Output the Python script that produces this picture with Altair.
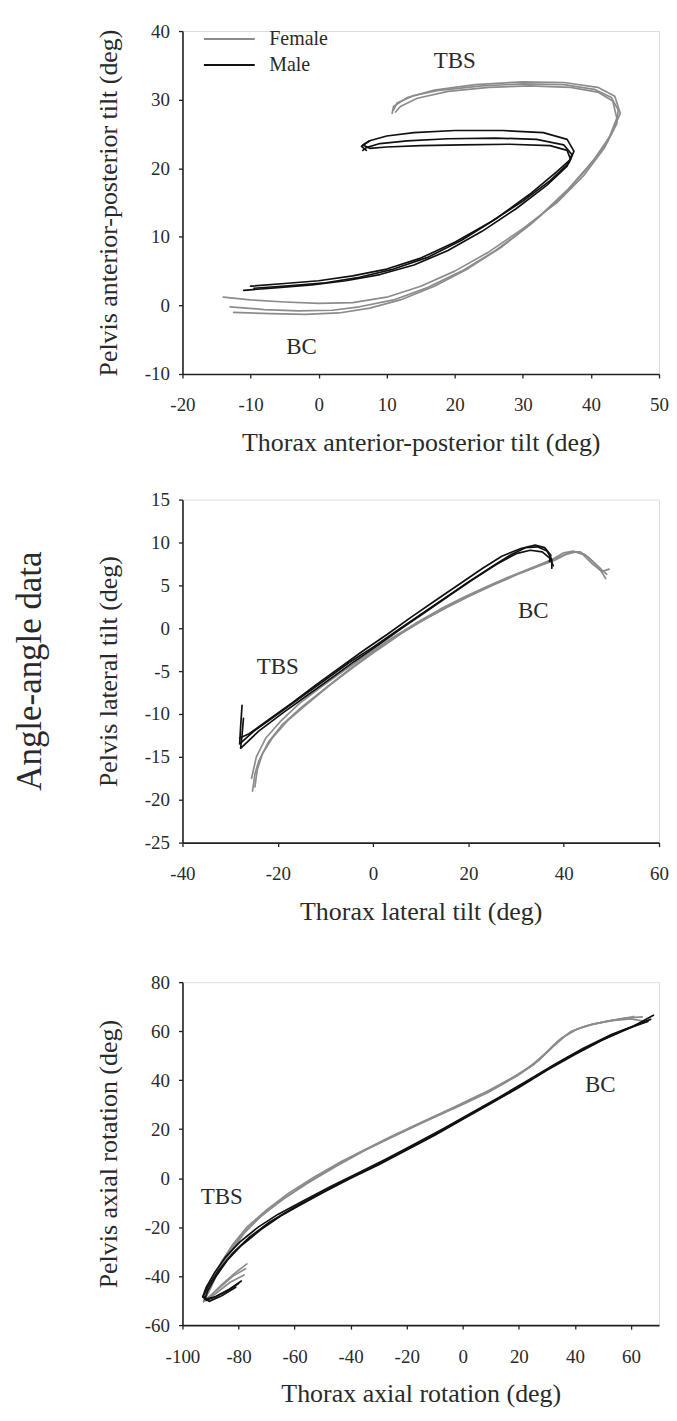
import altair as alt
import pandas as pd

FONT = "Liberation Serif"
GRAY = "#8c8c8c"
BLACK = "#111111"
TEXT = "#2a2a2a"
GENDERS = ["Female", "Male"]
SIDE_TITLE = "Angle-angle data"

# ---------------- Panel 1: anterior-posterior tilt ----------------
P1_X_TICKS = [-20, -10, 0, 10, 20, 30, 40, 50]
P1_Y_TICKS = [-10, 0, 10, 20, 30, 40]
P1_F_A = [(-14, 1.2), (-10, 0.8), (-5, 0.5), (0, 0.3), (5, 0.4), (10, 1.2), (15, 2.8), (20, 5.0),
          (25, 7.8), (30, 11.2), (35, 15.0), (39, 19.0), (42, 23.0), (43.8, 26.5), (44, 28.5),
          (43, 30.3), (40.5, 31.5), (36, 32.2), (30, 32.3), (24, 32.0), (18, 31.4), (14, 30.6),
          (11.5, 29.5), (11, 28.5)]
P1_F_B = [(-13, -0.2), (-8, -0.6), (-3, -0.8), (2, -0.7), (6, -0.2), (11, 0.8), (16, 2.6), (21, 5.0),
          (26, 8.0), (31, 11.7), (35.5, 15.6), (39.5, 20.0), (42.5, 24.0), (43.8, 27.3), (43.2, 29.8),
          (41, 31.1), (37, 31.8), (31, 32.0), (25, 31.8), (19, 31.2), (14.5, 30.2), (12, 29.0),
          (11.3, 28.2)]
P1_F_C = [(-12.5, -1.0), (-7, -1.2), (-2, -1.3), (3, -1.1), (7.5, -0.4), (12, 0.8), (17, 2.8),
          (22, 5.4), (27, 8.6), (32, 12.6), (36.5, 16.8), (40.5, 21.3), (43, 25.0), (44.3, 28.0),
          (43.5, 30.5), (41, 31.8), (36, 32.5), (30, 32.6), (23, 32.2), (17, 31.4), (13, 30.3),
          (11, 29.0), (10.8, 28.0)]
P1_M_A = [(-10, 2.8), (-5, 3.2), (0, 3.6), (5, 4.3), (10, 5.3), (15, 6.9), (20, 9.2), (25, 12.0),
          (30, 15.2), (34, 18.2), (36.8, 20.8), (37.5, 22.5), (36.5, 24.2), (33, 25.2), (27, 25.5),
          (20, 25.5), (14, 25.2), (10, 24.7), (7.5, 24.0), (6.3, 23.2), (7, 22.6)]
P1_M_B = [(-11, 2.2), (-6, 2.6), (-1, 3.0), (4, 3.6), (9, 4.5), (14, 5.9), (19, 8.0), (24, 10.8),
          (29, 14.1), (33.5, 17.5), (36.5, 20.3), (37.2, 22.0), (36, 23.4), (32, 24.2), (26, 24.4),
          (19, 24.3), (13, 24.0), (9, 23.6), (7, 23.0), (6.5, 22.6)]
P1_M_C = [(-9.5, 2.5), (-4, 2.9), (1, 3.3), (6, 4.1), (11, 5.3), (16, 7.0), (21, 9.5), (26, 12.6),
          (31, 16.2), (35, 19.5), (37, 21.3), (36.5, 22.6), (34, 23.3), (28, 23.5), (21, 23.4),
          (15, 23.3), (10, 23.1), (7.5, 22.9), (6.5, 23.4), (7.5, 24.0)]
P1_LABELS = ["TBS", "BC"]
P1_LABEL_X = [20, -2.5]
P1_LABEL_Y = [35.7, -6.0]

# ---------------- Panel 2: lateral tilt ----------------
P2_X_TICKS = [-40, -20, 0, 20, 40, 60]
P2_Y_TICKS = [-25, -20, -15, -10, -5, 0, 5, 10, 15]
P2_M_A = [(-27.5, -9.0), (-27.8, -11.5), (-28, -13.5), (-25, -12.0), (-20, -10.0), (-15, -8.0),
          (-10, -6.0), (-5, -4.0), (0, -2.2), (5, -0.3), (10, 1.6), (15, 3.5), (20, 5.4), (25, 7.2),
          (29, 8.6), (32, 9.4), (34.5, 9.5), (36.5, 9.0), (37.5, 8.0), (37.5, 7.0)]
P2_M_B = [(-27.2, -10.5), (-27.5, -12.5), (-27.8, -14.0), (-24, -12.0), (-19, -9.9), (-14, -7.9),
          (-9, -5.9), (-4, -3.9), (1, -2.0), (6, 0.0), (11, 1.9), (16, 3.8), (21, 5.7), (26, 7.5),
          (30, 8.7), (33, 9.1), (35.5, 8.9), (37, 8.2), (37.8, 7.3)]
P2_M_C = [(-28, -12.8), (-26, -12.3), (-22, -10.7), (-17, -8.7), (-12, -6.6), (-7, -4.6), (-2, -2.6),
          (3, -0.7), (8, 1.3), (13, 3.2), (18, 5.1), (23, 7.0), (27, 8.4), (31, 9.3), (34, 9.7),
          (36, 9.4), (37.3, 8.5), (37, 7.8)]
P2_F_A = [(-25.3, -19.0), (-24.8, -17.0), (-24.0, -15.5), (-22, -13.3), (-19, -11.2), (-15, -9.2),
          (-10, -7.0), (-5, -4.8), (0, -2.8), (5, -0.9), (10, 0.8), (15, 2.3), (20, 3.7), (25, 5.0),
          (30, 6.2), (35, 7.3), (38, 7.9), (40.5, 8.6), (42.5, 8.9), (44.5, 8.6), (46.5, 7.6),
          (48, 6.8), (49, 6.3)]
P2_F_B = [(-24.8, -18.5), (-24.3, -16.5), (-23.2, -14.6), (-21, -12.7), (-18, -10.8), (-14, -8.9),
          (-9, -6.6), (-4, -4.5), (1, -2.5), (6, -0.6), (11, 1.1), (16, 2.6), (21, 4.0), (26, 5.3),
          (31, 6.5), (36, 7.6), (39, 8.3), (41.5, 8.9), (43.5, 8.9), (45.5, 8.1), (47.5, 7.0),
          (48.8, 5.8)]
P2_F_C = [(-25.5, -17.5), (-24.5, -15.0), (-22.5, -12.8), (-19.5, -10.9), (-15.5, -8.8),
          (-11, -6.9), (-6, -4.9), (-1, -3.0), (4, -1.1), (9, 0.6), (14, 2.2), (19, 3.6), (24, 4.9),
          (29, 6.1), (34, 7.2), (37.5, 8.0), (40, 8.8), (42, 9.0), (44, 8.6), (46, 7.5), (48, 6.6),
          (49.5, 6.9)]
P2_LABELS = ["TBS", "BC"]
P2_LABEL_X = [-20, 33.6]
P2_LABEL_Y = [-4.5, 2.0]

# ---------------- Panel 3: axial rotation ----------------
P3_X_TICKS = [-100, -80, -60, -40, -20, 0, 20, 40, 60]
P3_Y_TICKS = [-60, -40, -20, 0, 20, 40, 60, 80]
P3_M_A = [(-80, -43.0), (-84, -46.0), (-88.5, -48.5), (-92, -49.5), (-91, -46.0), (-88, -40.0),
          (-84, -33.5), (-79, -27.5), (-72, -21.0), (-65, -15.5), (-58, -11.0), (-50, -6.0),
          (-40, 0.0), (-30, 5.5), (-20, 11.5), (-10, 17.5), (0, 24.0), (10, 30.5), (20, 37.0),
          (30, 44.0), (40, 50.5), (50, 56.5), (60, 61.5), (68, 66.5)]
P3_M_B = [(-79, -42.0), (-83.5, -45.5), (-88, -48.3), (-91.5, -49.8), (-92.5, -48.0), (-90.5, -43.5),
          (-87, -37.5), (-82, -30.5), (-76, -24.0), (-69, -18.0), (-61, -12.5), (-53, -7.5),
          (-43, -1.5), (-33, 4.0), (-23, 10.0), (-13, 16.0), (-3, 22.3), (7, 28.8), (17, 35.3),
          (27, 42.2), (37, 49.0), (47, 55.0), (57, 60.3), (66, 64.0)]
P3_M_C = [(-81, -44.5), (-86, -48.0), (-90.5, -50.3), (-92.8, -48.5), (-91.5, -44.5), (-88.5, -38.5),
          (-84.5, -32.0), (-79.5, -26.0), (-73, -20.0), (-66, -14.8), (-57, -9.3), (-47, -3.3),
          (-37, 2.3), (-27, 8.0), (-17, 14.0), (-7, 20.2), (3, 26.6), (13, 33.0), (23, 39.8),
          (33, 46.6), (43, 53.0), (53, 58.6), (62, 62.6), (67, 64.8)]
P3_F_A = [(-77, -35.0), (-81, -38.5), (-86, -43.5), (-90, -48.0), (-92.5, -50.5), (-91.5, -47.0),
          (-89, -41.0), (-86, -34.0), (-82, -27.0), (-77, -20.0), (-70, -13.0), (-62, -6.0),
          (-53, 0.5), (-43, 7.0), (-33, 12.5), (-22, 18.5), (-10, 25.0), (0, 30.5), (10, 36.0),
          (20, 42.5), (27, 48.0), (32, 53.5), (36.5, 58.0), (41, 61.0), (47, 63.0), (54, 64.5),
          (61, 66.0)]
P3_F_B = [(-77.5, -37.0), (-82, -40.0), (-87, -45.0), (-91, -49.0), (-92, -49.5), (-90, -45.0),
          (-87.5, -38.5), (-84, -31.0), (-79.5, -24.0), (-73.5, -17.0), (-66, -10.0), (-57, -3.0),
          (-47, 4.0), (-37, 10.5), (-26, 16.8), (-14, 23.2), (-3, 29.0), (7, 34.5), (17, 40.5),
          (24, 45.5), (29.5, 51.0), (34, 56.0), (38.5, 59.8), (44, 62.2), (51, 64.0), (58, 65.3),
          (64, 65.8)]
P3_F_C = [(-78, -39.5), (-83, -42.5), (-88, -47.0), (-91.5, -50.0), (-91.8, -48.0), (-89.5, -43.0),
          (-86.5, -36.5), (-82.5, -29.5), (-78, -22.5), (-72, -15.5), (-64, -8.5), (-55, -1.8),
          (-45, 5.0), (-35, 11.3), (-24, 17.5), (-12, 24.0), (-1, 29.6), (9, 35.0), (19, 41.5),
          (25.5, 46.5), (30.5, 52.0), (35, 57.0), (40, 60.5), (46, 62.8), (53, 64.3), (60, 65.0),
          (65, 64.0)]
P3_LABELS = ["TBS", "BC"]
P3_LABEL_X = [-86, 49]
P3_LABEL_Y = [-7.5, 38]

W, H = 478, 344


def traces_df(traces):
    rows = []
    for gender, tid, pts in traces:
        for i, (x, y) in enumerate(pts):
            rows.append({"gender": gender, "trace": tid, "order": i, "x": x, "y": y})
    return pd.DataFrame(rows)


def axis(values, title, is_x):
    kw = dict(
        values=values, title=title, grid=False,
        domainColor="#222", domainWidth=1.6, tickColor="#222", tickWidth=1.3, tickSize=4,
        labelFont=FONT, labelFontSize=19, labelColor=TEXT,
        titleFont=FONT, titleFontSize=26, titleFontWeight="normal", titleColor=TEXT,
        labelExpr="toString(datum.value)", labelFlush=False, labelOverlap=False,
    )
    if is_x:
        kw.update(labelPadding=18, titlePadding=15)
    else:
        kw.update(labelPadding=9, titlePadding=23)
    return alt.Axis(**kw)


def panel(traces, xdom, ydom, xticks, yticks, xtitle, ytitle, labels, lx, ly,
          legend=None, side=None, filler=False):
    df = traces_df(traces)
    color = alt.Color(
        "gender:N",
        scale=alt.Scale(domain=GENDERS, range=[GRAY, BLACK]),
        legend=legend,
    )
    lines = alt.Chart(df).mark_line(strokeWidth=1.7, strokeJoin="round", strokeCap="round").encode(
        x=alt.X("x:Q", scale=alt.Scale(domain=xdom, nice=False, zero=False), axis=axis(xticks, xtitle, True)),
        y=alt.Y("y:Q", scale=alt.Scale(domain=ydom, nice=False, zero=False), axis=axis(yticks, ytitle, False)),
        color=color,
        detail="trace:N",
        order="order:Q",
    )
    ldf = pd.DataFrame({"label": labels, "x": lx, "y": ly})
    text = alt.Chart(ldf).mark_text(font=FONT, fontSize=23, color=TEXT).encode(
        x="x:Q", y="y:Q", text="label:N"
    )
    layers = [lines, text]
    if side is not None:
        sdf = pd.DataFrame({"t": [side]})
        side_text = alt.Chart(sdf).mark_text(
            font=FONT, fontSize=35, angle=270, color=TEXT, baseline="middle", align="center"
        ).encode(x=alt.value(-153), y=alt.value(H / 2), text="t:N")
        layers.append(side_text)
    if filler:
        fdf = pd.DataFrame({"t": ["."]})
        pad = alt.Chart(fdf).mark_text(opacity=0, fontSize=8, baseline="middle").encode(
            x=alt.value(W / 2), y=alt.value(H + 92), text="t:N"
        )
        layers.append(pad)
    return alt.layer(*layers).properties(width=W, height=H)


legend1 = alt.Legend(
    title=None, orient="none", legendX=37, legendY=-2, symbolType="M-3,0H3",
    symbolSize=289, symbolStrokeWidth=2, labelFont=FONT, labelFontSize=20, labelColor=TEXT,
    rowPadding=6, labelOffset=30, padding=0,
)

p1 = panel(
    [("Female", "f1", P1_F_A), ("Female", "f2", P1_F_B), ("Female", "f3", P1_F_C),
     ("Male", "m1", P1_M_A), ("Male", "m2", P1_M_B), ("Male", "m3", P1_M_C)],
    [-20, 50], [-10, 40], P1_X_TICKS, P1_Y_TICKS,
    "Thorax anterior-posterior tilt (deg)", "Pelvis anterior-posterior tilt (deg)",
    P1_LABELS, P1_LABEL_X, P1_LABEL_Y, legend=legend1,
)
p2 = panel(
    [("Female", "f1", P2_F_A), ("Female", "f2", P2_F_B), ("Female", "f3", P2_F_C),
     ("Male", "m1", P2_M_A), ("Male", "m2", P2_M_B), ("Male", "m3", P2_M_C)],
    [-40, 60], [-25, 15], P2_X_TICKS, P2_Y_TICKS,
    "Thorax lateral tilt (deg)", "Pelvis lateral tilt (deg)",
    P2_LABELS, P2_LABEL_X, P2_LABEL_Y, side=SIDE_TITLE, filler=True,
)
p3 = panel(
    [("Female", "f1", P3_F_A), ("Female", "f2", P3_F_B), ("Female", "f3", P3_F_C),
     ("Male", "m1", P3_M_A), ("Male", "m2", P3_M_B), ("Male", "m3", P3_M_C)],
    [-100, 70], [-60, 80], P3_X_TICKS, P3_Y_TICKS,
    "Thorax axial rotation (deg)", "Pelvis axial rotation (deg)",
    P3_LABELS, P3_LABEL_X, P3_LABEL_Y,
)

chart = alt.vconcat(p1, p2, p3, spacing=33).resolve_scale(color="independent").properties(
    padding={"left": 4, "top": 11, "right": 0, "bottom": 0}
).configure_view(strokeWidth=0).configure(background="white")

chart.save("out.html", embed_options={"renderer": "svg", "actions": False})
